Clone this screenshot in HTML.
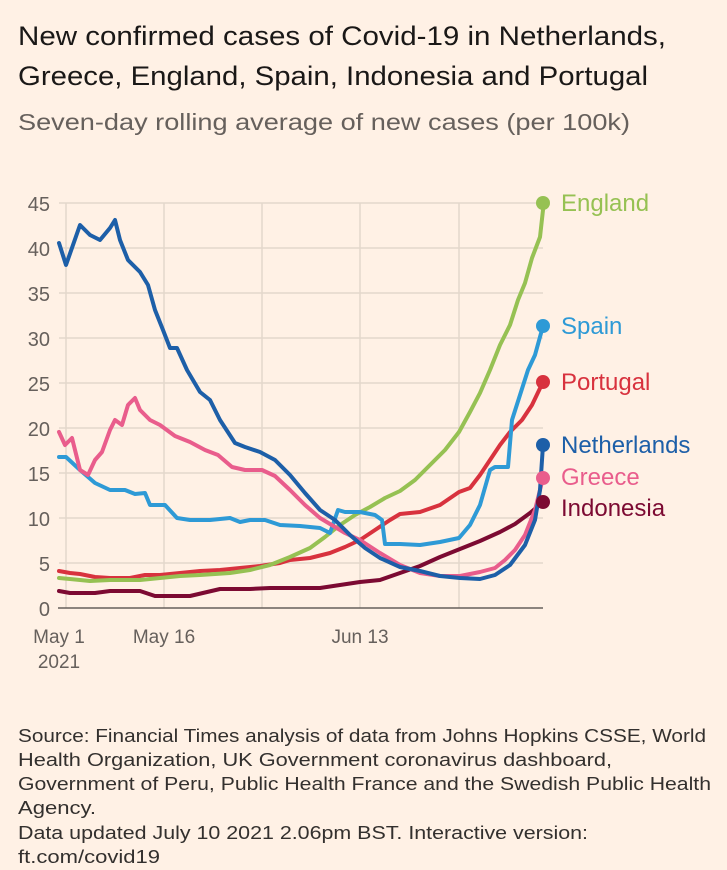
<!DOCTYPE html>
<html><head><meta charset="utf-8"><style>
html,body{margin:0;padding:0;background:#fff1e5;}
svg{display:block;font-family:"Liberation Sans",sans-serif;}
</style></head><body>
<svg width="727" height="870" viewBox="0 0 727 870">
<rect width="727" height="870" fill="#fff1e5"/>
<text x="18" y="45" font-size="27" fill="#1a1817" textLength="648" lengthAdjust="spacingAndGlyphs">New confirmed cases of Covid-19 in Netherlands,</text>
<text x="18" y="85" font-size="27" fill="#1a1817" textLength="630" lengthAdjust="spacingAndGlyphs">Greece, England, Spain, Indonesia and Portugal</text>
<text x="18" y="130" font-size="23" fill="#66605c" textLength="612" lengthAdjust="spacingAndGlyphs">Seven-day rolling average of new cases (per 100k)</text>
<g stroke="#e3d7cb" stroke-width="1.5">
<line x1="59" y1="203" x2="543" y2="203"/><line x1="59" y1="248" x2="543" y2="248"/><line x1="59" y1="293" x2="543" y2="293"/><line x1="59" y1="338" x2="543" y2="338"/><line x1="59" y1="383" x2="543" y2="383"/><line x1="59" y1="428" x2="543" y2="428"/><line x1="59" y1="473" x2="543" y2="473"/><line x1="59" y1="518" x2="543" y2="518"/><line x1="59" y1="563" x2="543" y2="563"/>
<line x1="66" y1="203" x2="66" y2="608"/><line x1="164" y1="203" x2="164" y2="608"/><line x1="262" y1="203" x2="262" y2="608"/><line x1="360" y1="203" x2="360" y2="608"/><line x1="459" y1="203" x2="459" y2="608"/>
</g>
<line x1="58" y1="608" x2="543" y2="608" stroke="#66605c" stroke-width="1.5"/>
<g font-size="20" fill="#66605c" text-anchor="end">
<text x="50" y="211">45</text><text x="50" y="256">40</text><text x="50" y="301">35</text><text x="50" y="346">30</text><text x="50" y="391">25</text><text x="50" y="436">20</text><text x="50" y="481">15</text><text x="50" y="526">10</text><text x="50" y="571">5</text><text x="50" y="616">0</text>
</g>
<g font-size="19" fill="#66605c" text-anchor="middle">
<text x="59" y="643">May 1</text><text x="59" y="668">2021</text><text x="164" y="643">May 16</text><text x="360" y="643">Jun 13</text>
</g>
<g fill="none" stroke-width="4" stroke-linejoin="round" stroke-linecap="round">
<polyline stroke="#7c0a32" points="59,591 70,593 95,593 110,591 140,591 155,596 190,596 220,589 250,589 270,588 320,588 340,585 360,582 380,580 400,573 420,566 440,557 460,549 480,541 500,532 515,524 530,513 543,502"/>
<polyline stroke="#d8323e" points="59,571 70,573 80,574 95,577 110,578 130,578 145,575 160,575 180,573 200,571 220,570 240,568 260,566 280,563 290,560 310,558 330,553 345,547 360,540 375,530 390,520 400,514 420,512 440,505 459,492 470,488 480,475 490,460 500,445 510,432 522,420 532,405 543,382"/>
<polyline stroke="#96c153" points="59,578 70,579 90,581 110,580 140,580 160,578 180,576 200,575 230,573 250,570 270,565 290,557 310,548 325,537 340,525 355,515 370,507 385,498 400,491 415,480 430,465 445,450 459,432 470,412 480,393 490,370 500,345 510,325 518,300 525,283 532,258 540,237 543,210"/>
<polyline stroke="#2e9ad6" points="59,457 66,457 80,470 95,483 110,490 125,490 135,494 145,493 150,505 165,505 177,518 190,520 210,520 230,518 240,522 250,520 265,520 280,525 300,526 320,528 330,533 338,510 345,512 360,512 375,515 382,520 385,544 400,544 420,545 440,542 459,538 470,525 480,505 490,470 495,467 508,467 512,420 520,395 528,370 535,355 543,326"/>
<polyline stroke="#e95d8c" points="59,432 65,445 72,438 80,470 88,475 95,460 102,452 110,430 115,420 122,425 128,405 135,398 140,410 150,420 160,425 175,436 190,442 205,450 218,455 232,467 245,470 262,470 275,476 290,490 305,505 320,518 335,527 345,533 360,540 380,553 400,565 420,573 440,576 460,576 480,572 495,568 505,560 515,550 525,535 535,510 543,478"/>
<polyline stroke="#1d5fa8" points="59,243 66,265 80,225 90,235 100,240 110,228 115,220 120,240 128,260 140,272 148,285 155,310 163,330 170,348 177,348 187,370 200,392 210,400 220,420 235,443 245,447 260,452 275,460 290,475 305,493 320,510 335,520 350,535 365,548 380,558 400,567 420,571 440,576 460,578 480,579 495,575 510,565 525,545 535,520 540,490 543,445"/>
</g>
<circle cx="543" cy="203" r="7" fill="#96c153"/><circle cx="543" cy="326" r="7" fill="#2e9ad6"/><circle cx="543" cy="382" r="7" fill="#d8323e"/><circle cx="543" cy="445" r="7" fill="#1d5fa8"/><circle cx="543" cy="478" r="7" fill="#e95d8c"/><circle cx="543" cy="502" r="7" fill="#7c0a32"/>
<g font-size="24">
<text x="561" y="211" fill="#96c153">England</text>
<text x="561" y="334" fill="#2e9ad6">Spain</text>
<text x="561" y="390" fill="#d8323e">Portugal</text>
<text x="561" y="453" fill="#1d5fa8">Netherlands</text>
<text x="561" y="485" fill="#e95d8c">Greece</text>
<text x="561" y="516" fill="#7c0a32">Indonesia</text>
</g>
<g font-size="18" fill="#33302e">
<text x="18" y="742" textLength="688" lengthAdjust="spacingAndGlyphs">Source: Financial Times analysis of data from Johns Hopkins CSSE, World</text>
<text x="18" y="766" textLength="594" lengthAdjust="spacingAndGlyphs">Health Organization, UK Government coronavirus dashboard,</text>
<text x="18" y="790" textLength="693" lengthAdjust="spacingAndGlyphs">Government of Peru, Public Health France and the Swedish Public Health</text>
<text x="18" y="814" textLength="78" lengthAdjust="spacingAndGlyphs">Agency.</text>
<text x="18" y="839" textLength="570" lengthAdjust="spacingAndGlyphs">Data updated July 10 2021 2.06pm BST. Interactive version:</text>
<text x="18" y="863" textLength="142" lengthAdjust="spacingAndGlyphs">ft.com/covid19</text>
</g>
</svg>
</body></html>
